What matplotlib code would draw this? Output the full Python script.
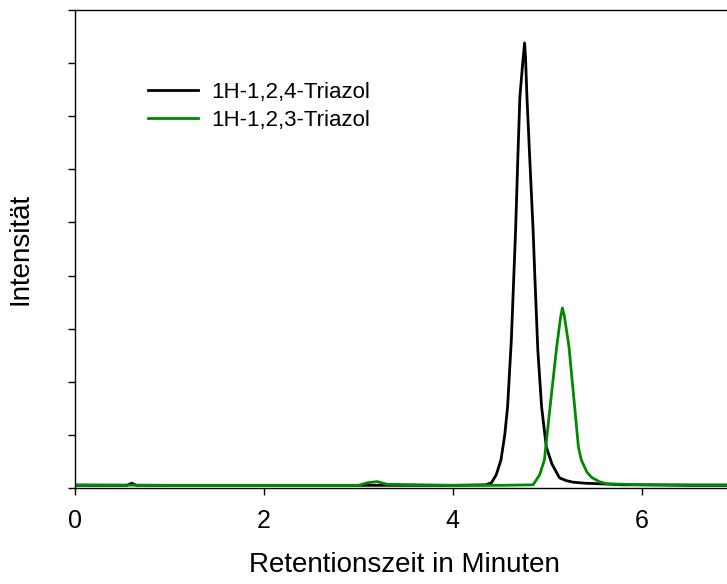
import matplotlib
matplotlib.use("Agg")
import matplotlib.pyplot as plt

plt.rcParams['font.family'] = ['Liberation Sans', 'DejaVu Sans']

# 1H-1,2,4-Triazol (black)
t_124 = [0.0, 0.55, 0.6, 0.65, 1.0, 2.0, 3.0, 4.0, 4.35, 4.41, 4.46, 4.51, 4.55,
         4.58, 4.62, 4.665, 4.69, 4.71, 4.74, 4.76, 4.77, 4.785, 4.82, 4.85, 4.87, 4.90,
         4.94, 4.99, 5.05, 5.13, 5.20, 5.27, 5.40, 5.55, 5.8, 6.0, 6.5, 6.9]
i_124 = [0.05, 0.05, 0.09, 0.05, 0.05, 0.05, 0.05, 0.05, 0.06, 0.10, 0.25, 0.53, 1.0,
         1.53, 2.8, 4.86, 6.3, 7.36, 8.0, 8.38, 8.1, 7.36, 6.0, 4.86, 3.92, 2.6,
         1.53, 0.77, 0.45, 0.19, 0.14, 0.11, 0.09, 0.08, 0.06, 0.06, 0.05, 0.05]

# 1H-1,2,3-Triazol (green)
t_123 = [0.0, 1.0, 2.0, 3.0, 3.1, 3.2, 3.3, 4.0, 4.5, 4.85, 4.92, 4.97, 5.03, 5.10,
         5.14, 5.16, 5.18, 5.23, 5.29, 5.33, 5.36, 5.42, 5.47, 5.55, 5.63, 5.8, 6.0, 6.9]
i_123 = [0.06, 0.05, 0.05, 0.05, 0.10, 0.12, 0.07, 0.05, 0.05, 0.06, 0.25, 0.53, 1.53, 2.66,
         3.2, 3.39, 3.25, 2.66, 1.53, 0.77, 0.53, 0.3, 0.2, 0.12, 0.08, 0.07, 0.06, 0.06]

labels = ['1H-1,2,4-Triazol', '1H-1,2,3-Triazol']
x_ticks = [0, 2, 4, 6]

W, H = 727, 584
fig = plt.figure(figsize=(W / 100, H / 100), dpi=100)
ax = fig.add_axes([75 / W, (H - 488) / H, (W - 75) / W + 0.01, 478 / H])

ax.plot(t_124, i_124, color='black', lw=2.0, label=labels[0])
ax.plot(t_123, i_123, color='#008a00', lw=2.0, label=labels[1])

ax.set_xlim(0, 6.98)
ax.set_ylim(0, 9)
ax.set_xticks(x_ticks)
ax.set_xticklabels([str(v) for v in x_ticks])
ax.set_yticks(range(0, 10))
ax.set_yticklabels([])
ax.tick_params(axis='both', direction='out', length=5, width=1, labelsize=18, pad=10)
ax.spines['right'].set_visible(False)
for s in ['left', 'top', 'bottom']:
    ax.spines[s].set_linewidth(1.0)

ax.set_xlabel('Retentionszeit in Minuten', fontsize=20, labelpad=14)
ax.set_ylabel('Intensität', fontsize=20, labelpad=15)

ax.legend(loc='upper left', bbox_to_anchor=(0.080, 0.891), frameon=False,
          fontsize=16, handlelength=2.25, handletextpad=0.6, labelspacing=0.30)

fig.savefig('out.png', dpi=100)
